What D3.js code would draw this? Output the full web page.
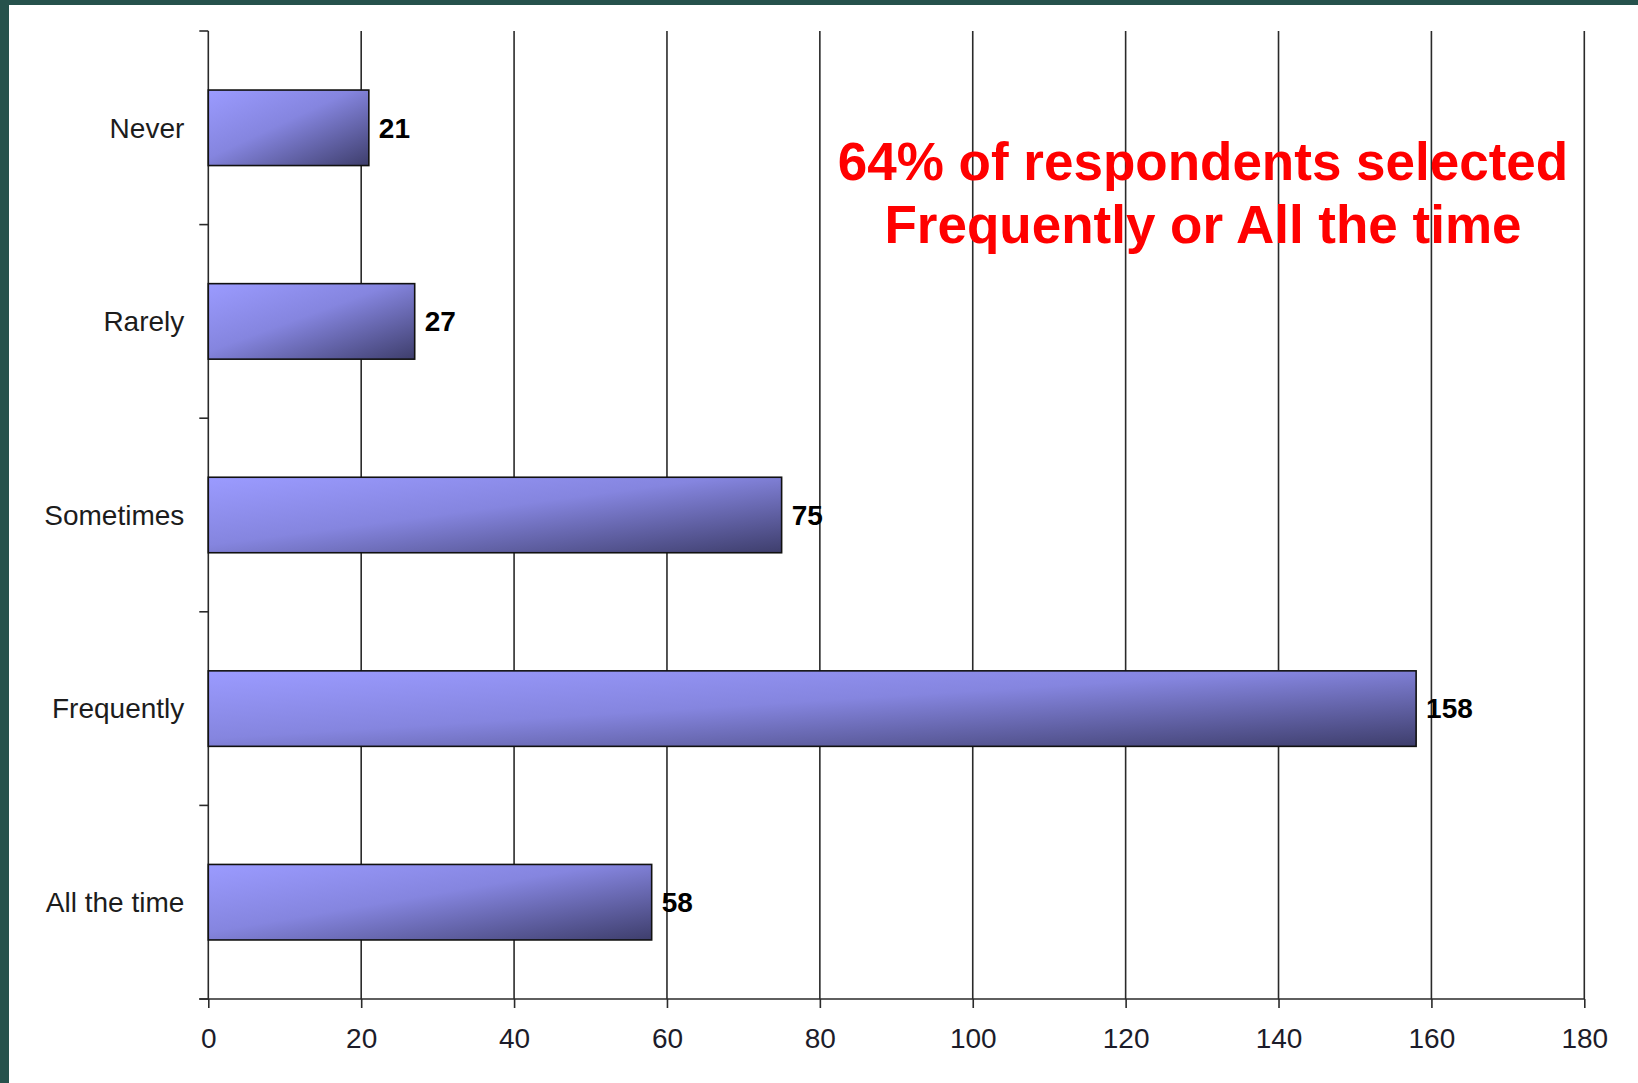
<!DOCTYPE html>
<html>
<head>
<meta charset="utf-8">
<script src="https://cdn.jsdelivr.net/npm/d3@7"></script>
<style>
  html, body { margin: 0; padding: 0; background: #26524c; }
  svg { display: block; }
  text { font-family: "Liberation Sans", Arial, sans-serif; }
</style>
</head>
<body>
<svg id="chart" width="1638" height="1083"></svg>
<script>
// Survey responses: how often respondents do it
const categories = ["Never", "Rarely", "Sometimes", "Frequently", "All the time"];
const counts = [21, 27, 75, 158, 58];
const xTicks = [0, 20, 40, 60, 80, 100, 120, 140, 160, 180];
const noteLines = ["64% of respondents selected", "Frequently or All the time"];

const W = 1638, H = 1083;
const plot = { left: 208.3, right: 1584.3, top: 31, bottom: 999 };

const svg = d3.select("#chart");

// slide frame: dark strip on top and left, white page
svg.append("rect").attr("x", 0).attr("y", 0).attr("width", W).attr("height", H).attr("fill", "#26524c");
svg.append("rect").attr("x", 9).attr("y", 5).attr("width", W - 9).attr("height", H - 5).attr("fill", "#ffffff");

const defs = svg.append("defs");
const grad = defs.append("linearGradient")
  .attr("id", "barFill")
  .attr("x1", 0).attr("y1", 0).attr("x2", 1).attr("y2", 1);
grad.append("stop").attr("offset", "0%").attr("stop-color", "#9b9bff");
grad.append("stop").attr("offset", "45%").attr("stop-color", "#8585df");
grad.append("stop").attr("offset", "100%").attr("stop-color", "#3e3e6c");

const x = d3.scaleLinear().domain([0, 180]).range([plot.left, plot.right]);
const y = d3.scaleBand().domain(categories).range([plot.top, plot.bottom]).padding(0);
const barH = y.bandwidth() * 0.39;

// vertical gridlines
svg.append("g")
  .selectAll("line")
  .data(xTicks.filter(t => t > 0))
  .join("line")
  .attr("x1", d => x(d)).attr("x2", d => x(d))
  .attr("y1", plot.top).attr("y2", plot.bottom)
  .attr("stroke", "#2a2a2a").attr("stroke-width", 1.6);

// x axis along the bottom
const xAxis = svg.append("g")
  .attr("transform", `translate(0,${plot.bottom})`)
  .call(d3.axisBottom(x).tickValues(xTicks).tickSize(9).tickPadding(20).tickSizeOuter(0));
xAxis.select(".domain").attr("stroke", "#2a2a2a").attr("stroke-width", 1.6)
  .attr("d", `M${plot.left - 9},0H${plot.right}`);
xAxis.selectAll(".tick line").attr("stroke", "#2a2a2a").attr("stroke-width", 1.6);
xAxis.selectAll(".tick text")
  .attr("font-size", 28).attr("fill", "#1c1c2a")
  .style("font-family", "'Liberation Sans', Arial, sans-serif");

// y axis with ticks on category boundaries
const boundaries = categories.map(c => y(c)).concat([plot.bottom]);
const yAxis = svg.append("g");
yAxis.append("line")
  .attr("x1", plot.left).attr("x2", plot.left)
  .attr("y1", plot.top).attr("y2", plot.bottom)
  .attr("stroke", "#2a2a2a").attr("stroke-width", 1.6);
yAxis.selectAll("line.tk")
  .data(boundaries)
  .join("line").attr("class", "tk")
  .attr("x1", plot.left - 9).attr("x2", plot.left)
  .attr("y1", d => d).attr("y2", d => d)
  .attr("stroke", "#2a2a2a").attr("stroke-width", 1.6);
yAxis.selectAll("text.cat")
  .data(categories)
  .join("text").attr("class", "cat")
  .attr("x", plot.left - 24)
  .attr("y", d => y(d) + y.bandwidth() / 2)
  .attr("dy", "0.35em")
  .attr("text-anchor", "end")
  .attr("font-size", 28)
  .attr("fill", "#1c1c1c")
  .text(d => d);

// bars
svg.append("g")
  .selectAll("rect.bar")
  .data(counts)
  .join("rect").attr("class", "bar")
  .attr("x", x(0))
  .attr("y", (v, i) => y(categories[i]) + (y.bandwidth() - barH) / 2)
  .attr("width", v => x(v) - x(0))
  .attr("height", barH)
  .attr("fill", "url(#barFill)")
  .attr("stroke", "#111")
  .attr("stroke-width", 1.6);

// value labels
svg.append("g")
  .selectAll("text.value")
  .data(counts)
  .join("text").attr("class", "value")
  .attr("x", v => x(v) + 10)
  .attr("y", (v, i) => y(categories[i]) + y.bandwidth() / 2)
  .attr("dy", "0.35em")
  .attr("font-size", 28)
  .attr("font-weight", "bold")
  .attr("fill", "#000")
  .text(v => String(v));

// callout
svg.append("g")
  .selectAll("text.note")
  .data(noteLines)
  .join("text").attr("class", "note")
  .attr("x", 1203)
  .attr("y", (d, i) => 180 + i * 63)
  .attr("text-anchor", "middle")
  .attr("font-size", 53)
  .attr("font-weight", "bold")
  .attr("fill", "#ff0000")
  .text(d => d);
</script>
</body>
</html>
